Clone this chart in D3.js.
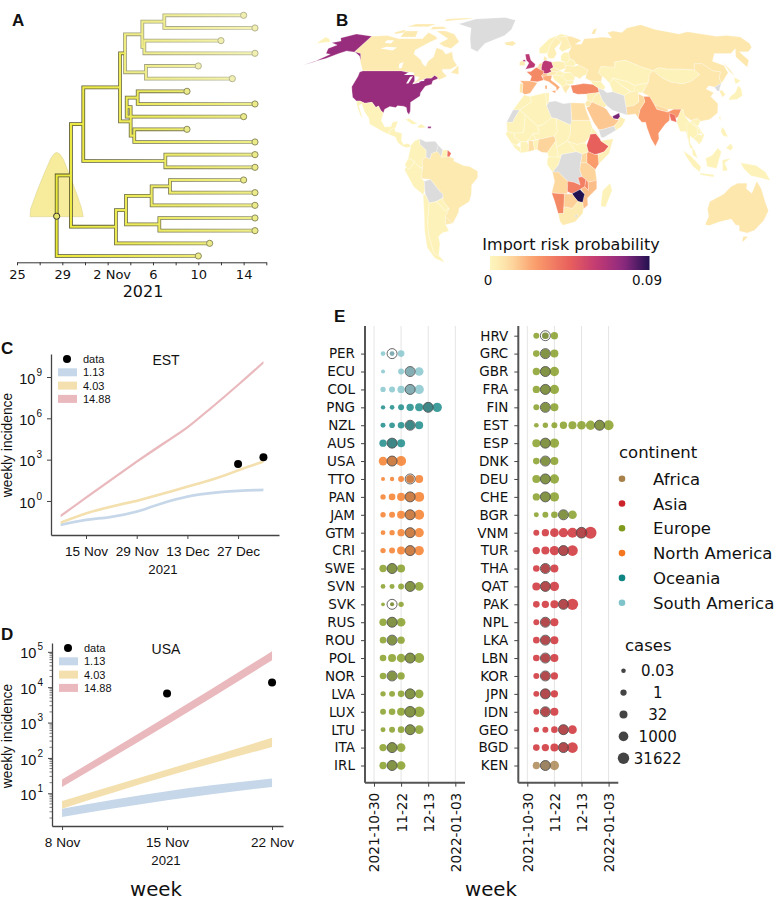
<!DOCTYPE html>
<html><head><meta charset="utf-8">
<script src="https://cdn.jsdelivr.net/npm/d3@7"></script>
<style>
html,body{margin:0;padding:0;background:#fff}
svg{display:block}
text{fill:#111}
</style></head><body>
<svg id="c" width="777" height="901"></svg>
<script>
// ---------- Panel A data ----------
const treeTickDays=[25,27,29,31,33,35,37,39,41,43,45,47];
const treeTickLabels={25:"25",29:"29",33:"2 Nov",37:"6",41:"10",45:"14"};
const tipDays=[45,46,43,46,41,44,40,46,45,40,46,46,46,45,46,46,46,46,42,41];
const treeNodes=[
 ["root",28.5,"a",19],["a",29.76,"b","c"],["b",30.85,"d","e"],["d",34.09,"f","g"],
 ["f",34.53,"h","i"],["h",36.06,"j","k"],["j",38,0,1],["k",36.24,2,3],["i",36.38,4,5],
 ["g",35.03,"r","p"],["r",34.68,"l",8],["l",35.65,6,7],["p",35.35,9,10],["e",38.09,11,12],
 ["c",33.73,"s",18],["s",34.62,"t","u"],["t",36.88,"v",15],["v",38.5,13,14],["u",37.56,16,17]];
const paleClade=["f","h","j","k","i"];
const densityDays=[26.15,26.2,26.8,27.4,28,28.3,28.5,28.8,29.1,29.7,30.3,30.7,30.85];
const densityValues=[0,0.12,0.41,0.67,0.91,0.98,1,0.97,0.89,0.62,0.34,0.13,0];
// ---------- Panel B data ----------
const riskTicks=["0","0.09"];
const lakes=[
 [[-87.8,42],[-86.3,42],[-85,46],[-87,45.8]],
 [[-92,46.8],[-85,46.7],[-85,48],[-89,48.4]],
 [[-84,46],[-80,45.6],[-81.7,43],[-83,44]],
 [[-83.4,41.6],[-79,42.5],[-79,43],[-83,42.4]],
 [[-79.7,43.3],[-76,43.4],[-76,44.2],[-79,43.9]],
 [[-98,50.5],[-96,50.5],[-97,54],[-99.5,53]],
 [[-123,62],[-112,60.8],[-110,62.5],[-119,63]],
 [[-124,65.5],[-118,65],[-118,67],[-124,67]]];
const grey=null;
const mapPolygons=[
 [0.006,[[-141,69.6],[-128,70],[-115,68],[-108,68],[-95,68],[-94,72],[-85,69.5],[-82,68],[-86,66],[-94,61],[-93,58.7],[-85,55.3],[-82,52.9],[-79,51.5],[-79,54.5],[-76.5,57],[-78,62.4],[-72,61],[-68,58.5],[-64,60],[-60,55],[-56,52],[-60,50],[-66,50],[-65,48.5],[-61,46],[-66,44],[-67.5,45.5],[-70,46.5],[-71.5,45],[-75,45],[-79,43.5],[-83,42],[-82.5,45],[-89,48],[-95,49],[-123,49],[-130,54.5],[-135,59],[-141,60]]],
 [0.006,[[-80,73],[-70,71],[-62,66],[-66,62],[-72,63],[-78,65],[-73,68],[-88,73]]],
 [0.006,[[-117,73],[-105,73],[-102,69],[-115,69]]],
 [0.006,[[-90,80],[-62,82.5],[-72,83],[-90,82]]],
 [0.006,[[-125,72],[-118,74],[-116,72],[-122,71]]],
 [0.006,[[-59,48],[-55,52],[-53,47]]],
 [0.006,[[-95,74],[-80,74.5],[-85,76],[-95,76]]],
 [0.006,[[-120,76],[-100,76],[-95,78],[-115,78]]],
 [grey,[[-73,78],[-60,82],[-30,83.5],[-18,81],[-20,74],[-25,70],[-40,65],[-44,60],[-50,62],[-54,68],[-58,75]]],
 [0.006,[[-24,65.5],[-22,64],[-17,63.5],[-14,65],[-17,66.5]]],
 [0.072,[[-124.7,48.4],[-123,49],[-95,49],[-89,48],[-84.5,46.5],[-82.5,45],[-83,42],[-79,43],[-75,45],[-71.5,45],[-70,46.5],[-67.5,45.5],[-67,44.7],[-70,43.5],[-70,41.7],[-74,40.6],[-76,37],[-75.7,35.2],[-81,31.8],[-80,27],[-80.5,25.2],[-82,26.5],[-83,29],[-85,29.7],[-89,30],[-90,29],[-94,29.5],[-97,28],[-97.3,26],[-99.5,27.5],[-101.5,29.8],[-103,29],[-106.5,31.8],[-111,31.3],[-114.8,32.5],[-117.1,32.5],[-120.5,34.5],[-122.5,37.5],[-124.3,40.3],[-124,46]]],
 [0.072,[[-168,65.5],[-162,66.5],[-166,68.5],[-157,71],[-141,69.6],[-141,60],[-135,59],[-130,54.8],[-134,57.5],[-140,59.7],[-148,60.5],[-152,59],[-158,56],[-164,54.5],[-158,58.5],[-162,59],[-165,62],[-161,64]]],
 [0.072,[[-164,54.2],[-170,52.4],[-168,53],[-163,54.9]]],
 [0.002,[[-180,65],[-170,66],[-175,68],[-180,69]]],
 [0.002,[[-117.1,32.5],[-114.8,32.5],[-111,31.3],[-106.5,31.8],[-103,29],[-101.5,29.8],[-99.5,27.5],[-97.3,26],[-97.8,22],[-95,18.5],[-91,18.7],[-90.5,21],[-87,21.5],[-88,18],[-91,17],[-92,14.5],[-96,16],[-105,20],[-106,23],[-110,27],[-113,31],[-114.5,30],[-110,23],[-112,25],[-115,29]]],
 [0.002,[[-92,14.5],[-91,17],[-88.5,18],[-88,16],[-83.5,15],[-83.5,11],[-82,9],[-79.5,9.5],[-77.3,8.5],[-78,7.5],[-80.5,7.3],[-83,8.3],[-85.7,10],[-87.5,13],[-90,13.8]]],
 [0.002,[[-85,22],[-80,23],[-74.2,20.2],[-77.7,19.9],[-82,22.4]]],
 [0.002,[[-74.5,18.5],[-72,20],[-68.5,18.5],[-71.5,17.8]]],
 [0.072,[[-67.4,17.8],[-67.4,18.7],[-65.3,18.7],[-65.3,17.8]]],
 [0.002,[[-77.3,8.5],[-75,11],[-72,12],[-71.5,9],[-67.5,6],[-67.5,2],[-70,1],[-69.5,-4],[-73,-2.5],[-75,0],[-78.8,1.4]]],
 [grey,[[-72,12],[-68,10.5],[-62,10.7],[-60,8.5],[-61,5],[-64,4],[-65,1],[-67.5,2],[-67.5,6],[-71.5,9]]],
 [grey,[[-60,8.5],[-57,6],[-58,2],[-60,1.3],[-61,5]]],
 [0.003,[[-57,6],[-54,5.9],[-54.2,2.3],[-58,2]]],
 [0.04,[[-54,5.9],[-51.7,4.2],[-52.8,2.2],[-54.2,2.3]]],
 [0.002,[[-80.9,-2],[-78.8,1.4],[-75,0],[-75.5,-1.5],[-78.3,-4.5],[-80,-3.5]]],
 [0.002,[[-81.3,-4.5],[-80,-3.5],[-78.3,-4.5],[-75.5,-1.5],[-75,0],[-73,-2.5],[-69.9,-4.2],[-70.5,-9.5],[-69,-11],[-69,-16],[-70.4,-18.3],[-76,-14]]],
 [0.006,[[-60,5],[-58,2],[-54.2,2.3],[-52.8,2.2],[-50,1.5],[-50,0],[-44,-2.5],[-40,-3],[-35,-5.5],[-35,-9],[-39,-13],[-39.5,-18],[-41,-22],[-48,-25.5],[-48.7,-28],[-53.4,-33.7],[-57.6,-30.2],[-54.6,-25.6],[-58,-22],[-57.7,-18],[-60,-16],[-65,-10],[-70.5,-9.5],[-69.9,-4.2],[-69.5,-4],[-70,1],[-67.5,2],[-65,1],[-64,4],[-61,5]]],
 [grey,[[-69,-11],[-65,-10],[-60,-16],[-57.7,-18],[-58,-20],[-62.5,-22],[-67,-22.8],[-69,-18],[-69,-16]]],
 [0.002,[[-62.5,-22],[-58,-20],[-58,-22],[-54.6,-25.6],[-57.7,-27],[-60,-24]]],
 [0.002,[[-70.4,-18.3],[-69,-18],[-67,-22.8],[-70,-33],[-71.5,-40],[-72,-50],[-68.5,-52.5],[-67,-55.5],[-73,-53],[-75.5,-47],[-73.5,-38],[-71.5,-30]]],
 [0.002,[[-67,-22.8],[-62.5,-22],[-60,-24],[-57.7,-27],[-54.6,-25.6],[-57.6,-30.2],[-58.5,-34],[-57,-38],[-62,-39],[-65,-41],[-65.5,-45],[-69,-51],[-68.5,-52.5],[-72,-50],[-71.5,-40],[-70,-33]]],
 [0.006,[[-57.6,-30.2],[-53.4,-33.7],[-58.5,-34.5]]],
 [0.02,[[-9,43.5],[-2,43.4],[3,42.4],[0,39],[-2,36.8],[-5.5,36],[-7.3,37.2],[-7,42]]],
 [0.008,[[-9,42],[-7,42],[-7.3,37.2],[-9,37]]],
 [0.032,[[-4.7,48.5],[-1.5,48.7],[2.5,51],[6,49.5],[8,49],[7.5,47.6],[6,46.3],[7.5,44],[3,43],[-2,43.4],[-1,46]]],
 [0.062,[[-6,58.5],[-3,58.7],[-1.6,55],[1.7,52.7],[1,51],[-5.5,50],[-3,53.5],[-5,55]]],
 [0.062,[[-8,54.3],[-5.5,54.3],[-6,55.3],[-7.5,55.2]]],
 [0.006,[[-10,52],[-6,52],[-6,54],[-8,54.3],[-7.5,55.2],[-10,54]]],
 [0.062,[[6,51],[7,53.6],[9,55],[14,54],[15,51],[12.5,50],[13.5,48.7],[10,47.4],[7.5,47.6],[8,49],[6,49.5]]],
 [0.012,[[3.5,51.4],[4.8,53],[7,53.6],[6,51]]],
 [0.012,[[2.5,51],[3.5,51.4],[6,51],[6,49.5]]],
 [0.018,[[6,46.3],[7.5,47.6],[10,47.4],[10,46.3],[8,46]]],
 [0.006,[[10,47.4],[13.5,48.7],[17,48.5],[16,46.8],[10,46.6]]],
 [0.022,[[7.5,44],[6.7,46],[8,46],[10,46.5],[13.5,46.5],[12.5,44],[16,41.8],[18.4,40],[16,38],[15.8,40],[11,43]]],
 [0.022,[[12.5,38],[15.5,38.2],[15,36.7]]],
 [0.022,[[8.2,41],[9.7,41],[9.5,39],[8.4,39]]],
 [0.006,[[8,55],[8.5,57.5],[11,56],[10,55]]],
 [0.003,[[5,59],[5,62],[14,68],[25,71],[31,70],[25,69],[20,69],[14,64],[12,60],[10,59]]],
 [0.004,[[12,56],[11,59],[12,60],[14,64],[20,69],[24,66],[17.5,62],[18.5,59],[16,56]]],
 [0.004,[[20,69],[25,69],[29,69.5],[31,62.5],[23,60],[21,62],[24,66]]],
 [0.004,[[14,54],[19,54.5],[23.5,54],[24,50.5],[19,49.3],[15,51]]],
 [0.005,[[12.5,50],[15,51],[19,49.3],[22,48.4],[17,48.5],[13.5,48.7]]],
 [0.003,[[16,46.8],[17,48.5],[22,48.4],[21,46]]],
 [0.003,[[21,46],[22,48],[27,48.2],[29.5,45],[28.5,43.8],[23,43.8]]],
 [0.003,[[23,43.8],[28.5,43.8],[28,42],[23,41.3]]],
 [0.003,[[13.5,46.5],[16,46.8],[21,46],[23,43.8],[23,41.3],[20,40],[19,41.5],[15,44]]],
 [0.006,[[20,40],[23,41.3],[26,41],[23,38],[22.5,36.5],[21,38]]],
 [0.003,[[21,55],[21.5,57.5],[24,59.5],[28,59.5],[28,56],[26,54],[23.5,54]]],
 [0.002,[[23.5,52],[23.5,54],[26,54],[28,56],[31,55],[32,53],[30,51.5]]],
 [0.004,[[24,50.5],[23.5,52],[30,51.5],[34,52.3],[40,49.6],[38,47],[35,46],[33,44.5],[30,46],[29.5,45],[27,48.2],[22,48.4]]],
 [0.032,[[26,41],[29,41.2],[35,42],[41.5,41.5],[44.5,39.7],[44.7,37.2],[36,36.3],[30,36.2],[27,37]]],
 [0.007,[[28,59.5],[31,62.5],[29,69.5],[33,69.5],[41,67],[35,64.5],[40,64.5],[44,68],[54,68.5],[60,69],[68,68.5],[67,72],[73,73],[80,72],[88,75],[105,77.5],[113,74],[130,71],[140,72.5],[160,69.5],[170,70],[180,69],[180,65],[177,62.5],[170,60],[163,60],[163,55],[157,51],[156,57],[163,62],[155,59],[142,59],[135,54.5],[141,52],[140,48],[132,43],[130.7,42.3],[131,45],[135,48.5],[130,49],[126,53],[120,53],[117,49.5],[108,50],[98,50],[92,50.8],[87,49.2],[80,51],[70,55],[61,54],[60,51],[50,51.5],[47,48],[49,46],[47.5,43],[40,43.5],[37,45],[38,47],[40,49.6],[34,52.3],[32,53],[31,55],[28,56]]],
 [0.007,[[142,54],[143,50],[143,46],[142,48]]],
 [0.007,[[52,71],[56,74],[68,77],[60,75],[55,71]]],
 [0.002,[[50,51.5],[60,51],[61,54],[70,55],[80,51],[87,49.2],[83,47],[80,42.5],[70,41],[66,43],[56,45],[53,42],[51,44.5],[49,46],[47,48]]],
 [0.002,[[53,42],[56,45],[61,41],[66,37.5],[61,35.5],[54,37.5]]],
 [0.002,[[56,45],[66,43],[70,41],[73,40],[67,37.3],[61,41]]],
 [0.002,[[70,41],[80,42.5],[74,37],[68,37]]],
 [0.002,[[87,49.2],[92,50.8],[98,50],[108,50],[117,49.5],[119,47],[111,43.5],[104,41.8],[96,42.8],[91,45]]],
 [0.007,[[74,37],[80,42.5],[83,47],[87,49.2],[91,45],[96,42.8],[104,41.8],[111,43.5],[119,47],[117,49.5],[120,53],[126,53],[130,49],[135,48.5],[131,45],[130.7,42.3],[124.3,40],[121,40.8],[118,39],[122,37],[119,35],[122,31],[120,26],[114,22.5],[108,21.6],[106,23],[102,22],[98,24.5],[98,28],[92,28],[86,28],[80,30.5],[78,35]]],
 [grey,[[124.3,40],[130.7,42.3],[127.5,39.5],[126.5,38],[125,38]]],
 [0.004,[[126.5,38],[128.5,38.5],[129.4,36],[126.5,34.5]]],
 [0.002,[[130,33],[132,35],[136.5,37],[140,40],[141.5,41],[142,39],[140.5,35.5],[136,33.5]]],
 [0.002,[[140,42],[142,45.5],[145,43.5],[141,42]]],
 [0.002,[[120.2,23],[121.5,25.2],[121,22]]],
 [0.028,[[68,23.5],[70,28],[74,32],[74,35],[78,35],[80,30.5],[81,28],[88,26.5],[89,27],[92,28],[97,28],[94,24],[92,23],[89,26],[88,22],[85,20],[80,15],[80,12],[77.5,8],[75,12],[73,18],[72.5,21],[70,21]]],
 [0.04,[[88.5,26],[92,25],[92.5,21],[89,22]]],
 [0.012,[[80,30.5],[81,28],[88,26.5],[88,28]]],
 [0.012,[[61,25],[66.5,25.5],[68,23.5],[70,28],[74,32],[74,35],[71,36.5],[70,32],[66,30],[61,29.5]]],
 [0.004,[[61,35.5],[66,37.5],[71,38],[71,36.5],[70,32],[66,30],[61,29.5]]],
 [grey,[[44.5,39.7],[48,38.5],[50,37],[54,37.5],[61,35.5],[61,29.5],[61,25],[57,26],[52,27.5],[48.5,30],[46,33],[44.7,37.2]]],
 [0.004,[[44.7,37.2],[46,33],[48.5,30],[46.5,29],[39,32],[41,35]]],
 [0.004,[[36,36.3],[44.7,37.2],[41,35],[39,32],[36,33]]],
 [0.006,[[34.3,31],[36,33],[39,32],[37,29.5],[35,29.5]]],
 [0.003,[[40,43.5],[47.5,43],[49.5,40],[48,38.5],[44.5,39.7],[41.5,41.5]]],
 [0.016,[[35,29],[37,29.5],[39,32],[46.5,29],[48,28],[50,25],[52,23],[55.5,22],[52,19],[44,17],[42,17],[39,21],[37,25]]],
 [0.078,[[51.5,24.2],[56,26],[56.3,24],[55,22.7],[52,23]]],
 [0.004,[[56.3,24],[59.7,22.5],[57,18.8],[53,16.7],[52,19],[55.5,22],[55,22.7]]],
 [grey,[[42,17],[44,17],[52,19],[53,16.7],[45,12.8],[43.3,12.7]]],
 [0.002,[[92.5,21],[94,24],[97,28],[98,28],[98,24.5],[101,21],[98.5,16],[98.7,10],[97.5,16],[94,16]]],
 [0.003,[[98.5,20],[101,21],[105,18],[105,14.5],[102,12],[100,13.5],[99.5,10],[101.5,6.5],[99.5,7],[98.7,10],[98.5,16]]],
 [0.002,[[102,22],[106,23],[108,21.6],[105.8,19],[109,14],[107,10.5],[105,9],[104,10.5],[107.5,14],[107.5,15],[105,19]]],
 [0.002,[[102,12],[105,14.5],[107.5,14],[107,10.5],[104,10.5]]],
 [0.002,[[101,21],[102,22],[105,19],[107.5,15],[105,14.5],[105,18]]],
 [0.002,[[100.5,6.5],[102,6.2],[104,1.5],[101,3]]],
 [0.002,[[95,5.5],[100,2.5],[106,-3],[105.5,-6],[101,-3],[97,2]]],
 [0.002,[[105.5,-6.5],[114.5,-7.5],[114.5,-8.7],[106,-7.5]]],
 [0.002,[[109,1.5],[113,3],[117,7],[119,5],[117.5,1],[116,-4],[110,-3]]],
 [0.002,[[119.5,0.5],[125,1.5],[121,-1],[123,-5],[120,-5.5]]],
 [0.002,[[131,-1],[141,-2.5],[147,-6],[150.5,-10.5],[143,-9],[138,-8],[133,-4]]],
 [0.002,[[120,16],[121,18.5],[122.5,17],[124,13],[121,13.7]]],
 [0.002,[[122,7],[125.5,9.5],[126.5,7],[125,5.7]]],
 [0.007,[[114,-22],[122,-18],[126,-14],[130,-12],[136,-12],[136,-15],[140,-17.5],[142,-11],[145.5,-15],[150,-22.5],[153.5,-27],[153,-32],[150,-37.5],[146,-39],[140,-38],[138,-35],[135.5,-34.7],[131,-31.5],[124,-33],[118,-35],[115,-34.5],[115.5,-30],[113.5,-26]]],
 [0.007,[[144.7,-41],[148,-41],[147,-43.5],[146,-43.5]]],
 [0.002,[[173,-35],[178,-38],[175,-41.5],[174,-39]]],
 [0.002,[[-13,27.7],[-9.8,31.5],[-6,35.8],[-2,35],[-1,32],[-8.7,27.7]]],
 [grey,[[-17,21],[-13,27.7],[-8.7,27.7],[-12,23],[-13,21]]],
 [0.002,[[-8.7,27.7],[-1,32],[-2,35],[8.5,37],[9,30],[12,23.5],[6,19.5],[3,19],[-5,25]]],
 [0.002,[[8.5,37],[11,37],[10.5,32],[9,30]]],
 [grey,[[9,30],[10.5,32],[15,32.5],[20,31],[25,31.6],[25,20],[24,19.5],[15,23],[12,23.5]]],
 [0.01,[[25,31.6],[34,31.3],[34.5,28],[36.8,22],[25,22]]],
 [0.002,[[-17,21],[-13,21],[-12,23],[-8.7,27.7],[-5,25],[-6,15.5],[-12,15],[-16.5,16]]],
 [0.002,[[-12,15],[-6,15.5],[-5,25],[3,19],[4,15],[0,14.8],[-4,10.5],[-8,10.5],[-11.5,12.5]]],
 [0.002,[[3,19],[6,19.5],[12,23.5],[15,23],[15.5,16],[13.5,13.5],[3.5,11.7],[2,11.5],[0,14.8],[4,15]]],
 [0.002,[[-17.5,14.7],[-16.5,16],[-12,15],[-11.5,12.5],[-8,10.5],[-10.5,8.5],[-13.5,9.5]]],
 [0.002,[[-13.5,9.5],[-10.5,8.5],[-8,7.5],[-7.5,4.4],[-11.5,7]]],
 [0.002,[[-8,10.5],[-4,10.5],[-2.8,9],[-3,5],[-7.5,4.4],[-8,7.5]]],
 [0.01,[[-2.8,11],[0,11],[1,6],[-3,5],[-2.8,9]]],
 [0.002,[[-4,10.5],[-2.8,11],[2,11.5],[0,14.8]]],
 [0.002,[[0,11],[3.5,11.7],[2.7,6.3],[1,6]]],
 [0.013,[[2.7,6.3],[3.5,11.7],[13.5,13.5],[14.5,11],[9,4.5],[5.5,4.7]]],
 [0.002,[[9,4.5],[14.5,11],[15,7.5],[16,2],[9.8,2.3]]],
 [0.002,[[15,23],[24,19.5],[24,15.5],[22,11],[15,7.5],[14.5,11],[13.5,13.5],[15.5,16]]],
 [0.002,[[15,7.5],[22,11],[27.5,5],[18,3.5],[16,2]]],
 [0.004,[[24,19.5],[25,22],[36.8,22],[38,18],[36,13],[33,10],[28,9],[24,10],[22,11],[24,15.5]]],
 [0.002,[[24,10],[28,9],[33,10],[34,8.5],[35,5],[31,3.7],[27.5,5],[22,11]]],
 [0.004,[[36.5,14.5],[38,18],[43,12.6],[40,14.8]]],
 [0.045,[[36,13],[36.5,14.5],[40,14.8],[42.5,12],[43,11],[48,8],[45,5],[41.5,4],[39,3.5],[35,5],[34,8.5]]],
 [0.004,[[43,11],[51,12],[48,4],[41.5,-1.6],[41,3.5],[45,5],[48,8]]],
 [0.026,[[34,4],[35,5],[39,3.5],[41,3.5],[41.5,-1.6],[39.3,-4.6],[34,-1]]],
 [0.012,[[30,-1],[31,3.7],[35,5],[34,4],[34,-1]]],
 [0.013,[[30,-1],[34,-1],[39.3,-4.6],[40.4,-10.5],[35,-11.5],[33.5,-10],[31,-8.5],[29.5,-5]]],
 [grey,[[18,3.5],[27.5,5],[31,3.7],[30,-1],[29.5,-5],[31,-8.5],[28.5,-9],[30,-13],[26,-11.5],[22,-11],[16,-6],[12.3,-6],[16,-2]]],
 [0.002,[[9,1],[9.8,2.3],[16,2],[18,3.5],[16,-2],[12.3,-6],[9,-2]]],
 [0.012,[[12.3,-6],[16,-6],[22,-11],[24,-11],[22,-13],[22,-18],[12,-17.3],[13.7,-11]]],
 [0.035,[[22,-11],[26,-11.5],[30,-13],[28.5,-9],[31,-8.5],[33.5,-10],[33,-14],[30,-15.5],[25,-17.7],[22,-16.5]]],
 [0.032,[[33.5,-10],[35,-11.5],[35.5,-16],[33,-14]]],
 [0.018,[[30.5,-15],[33,-14],[35.5,-16],[35,-11.5],[40.4,-10.5],[40.6,-15],[35,-20],[35.5,-24],[32.8,-26],[32,-22.5],[33,-18]]],
 [0.09,[[25,-17.7],[30,-15.5],[33,-18],[32,-22.5],[29,-22],[26,-19]]],
 [0.014,[[20,-18],[25,-17.7],[26,-19],[29,-22],[25.5,-25.7],[20,-24.8]]],
 [0.032,[[12,-17.3],[22,-18],[25,-17.7],[20,-18],[20,-28.5],[16.5,-28.5],[14,-22]]],
 [0.006,[[16.5,-28.5],[20,-28.5],[20,-24.8],[25.5,-25.7],[29,-22],[32,-22.5],[32.8,-26],[32.5,-28.5],[28,-33],[20,-34.8],[18,-33]]],
 [grey,[[27.5,-29.5],[29.3,-29],[29,-30.5],[28,-30.5]]],
 [0.002,[[49,-12],[50.5,-16],[47,-25],[44,-24.5],[44,-20],[44.5,-16]]]
];
// ---------- Panels C and D data ----------
const legendLabels=["1.13","4.03","14.88"];
const bandColours=["#c6d7e9","#f3e0ae","#e9b9bd"];
const estWeeks=["2021-11-08","2021-11-15","2021-11-22","2021-11-29","2021-12-06","2021-12-13","2021-12-20","2021-12-27","2022-01-03"];
const estLow=[[-1.84,-1.48,-1.26,-.87,-.27,.21,.48,.63,.70],[-1.67,-1.0,-.51,-.1,.41,.94,1.47,2.13,2.76],[-1.19,.15,1.45,2.76,4.0,5.25,6.75,8.32,9.97]];
const estHigh=[[-1.64,-1.28,-1.06,-.67,-.07,.41,.68,.83,.90],[-1.47,-.8,-.31,.1,.61,1.14,1.67,2.33,2.96],[-.99,.35,1.65,2.96,4.2,5.45,6.95,8.52,10.17]];
const estDataWeeks=["2021-12-27","2022-01-03"];
const estData=[490,1480];
const estXTicks=["2021-11-15","2021-11-29","2021-12-13","2021-12-27"];
const usaWeeks=["2021-11-08","2021-11-15","2021-11-22"];
const usaLow=[[.33,.80,1.18],[.566,1.48,2.31],[1.18,2.94,4.76]];
const usaHigh=[[.566,1.057,1.415],[.78,1.67,2.57],[1.39,3.18,5.02]];
const usaDataWeeks=["2021-11-15","2021-11-22"];
const usaData=[6600,13500];
// ---------- Panel E data ----------
const continents=["Africa","Asia","Europe","North America","Oceania","South America"];
const continentColours=["#a7804a","#cb2329","#7f9a1c","#f4771f","#0f8583","#7fc3cb"];
const caseBreaks=[0.03,1,32,1000,31622];
const caseLabels=["0.03","1","32","1000","31622"];
const weekTicks=[0,3,6,9];
const weekTickLabels=["2021-10-30","11-22","12-13","2022-01-03"];
const leftCountries=["PER","ECU","COL","PNG","NZL","AUS","USA","TTO","PAN","JAM","GTM","CRI","SWE","SVN","SVK","RUS","ROU","POL","NOR","LVA","LUX","LTU","ITA","IRL"];
const leftContinent=[5,5,5,4,4,4,3,3,3,3,3,3,2,2,2,2,2,2,2,2,2,2,2,2];
const leftCases=[
[.04,.04,2],[.01,null,.5,470,125],[.14,.5,8,1800,470],[.02,.04,.5,8,32,1800,470],[.07,.27,2,470,32],[8,1800,32],[125,1800,1800],
[.01,.02,.5,32,32],[.14,2,32,1800,1800],[.14,.5,32,1800,1800],[.04,.14,8,1800,470],[.14,.5,32,1800,470],
[8,1800,32],[.04,.07,.5,1800,125],[.005,.01,.14],[8,1800,125],[2,470,8],[2,32,125,1800,1800],[2,470,8],[.14,.5,2,1800,125],[.5,2,32,7000,7000],[.07,.5,2,1800,125],[8,1800,125],[8,1800,125]];
const leftRing=[2,4,4,6,4,2,2,4,4,4,4,4,2,4,2,2,2,4,2,4,4,4,2,2];
const rightCountries=["HRV","GRC","GBR","FRA","FIN","EST","ESP","DNK","DEU","CHE","BGR","VNM","TUR","THA","QAT","PAK","NPL","LKA","LBN","KOR","JPN","IDN","GEO","BGD","KEN"];
const rightContinent=[2,2,2,2,2,2,2,2,2,2,2,1,1,1,1,1,1,1,1,1,1,1,1,1,0];
const rightCases=[
[.5,2,8],[2,470,32],[8,1800,470],[8,1800,470],[.5,470,32],[.04,.14,.5,8,32,125,470,1800,1800],[32,1800,470],[2,470,32],[32,1800,470],[8,1800,470],
[.07,.5,2,470,125],[.5,8,125,470,1800,7000,100000],[8,32,470,1800,7000],[2,470,32],[32,1800,470],[2,8,32,1800,27000],
[.5,470,32],[2,470,32],[2,470,32],[.5,470,8],[.5,1800,8],[.5,470,32],[.14,.5,2,1800,125],[2,8,32,1800,7000],[8,1800,470]];
const rightRing=[2,2,2,2,2,8,2,2,2,2,4,6,4,2,2,4,2,2,2,2,2,2,4,4,2];

// ---------- helpers ----------
const svg=d3.select("#c");
const DJ='"DejaVu Sans",sans-serif', AR='"Liberation Sans",Arial,sans-serif';
function label(x,y,t,o={}){
  return svg.append("text").attr("x",x).attr("y",y).text(t)
   .attr("font-family",o.f||DJ).attr("font-size",o.s||13).attr("font-weight",o.w||null)
   .attr("text-anchor",o.a||"start").attr("fill",o.c||"#111");
}
[["A",12,26],["B",336,26],["C",1,354],["D",1,640],["E",334,322]].forEach(d=>label(d[1],d[2],d[0],{f:AR,s:17,w:"bold",c:"#000"}));
const defs=svg.append("defs");
function grad(id,a,b){const g=defs.append("linearGradient").attr("id",id).attr("gradientUnits","userSpaceOnUse")
   .attr("x1",55).attr("x2",265).attr("y1",0).attr("y2",0);
   g.append("stop").attr("offset",0).attr("stop-color",a);g.append("stop").attr("offset",1).attr("stop-color",b);}
grad("outer","#4f4f28","#9c9c78");grad("core","#ebe83c","#efee8c");
grad("outerP","#86865f","#c4c4aa");grad("coreP","#ebe866","#f5f4b8");

// ---------- Panel A ----------
const xTree=d3.scaleLinear().domain([25,47]).range([17,266.3]);
const yTree=d3.scaleLinear().domain([0,19]).range([15.3,256]);
const gA=svg.append("g");
const yDens=d3.scaleLinear().domain([0,1]).range([216.7,152.3]);
gA.append("path").attr("d",d3.area().x((d,i)=>xTree(densityDays[i])).y0(yDens(0)).y1(d=>yDens(d))(densityValues))
  .attr("fill","#f6ec9b").attr("stroke","#d8cf8a").attr("stroke-width",.5);
const nodeMap=new Map(treeNodes.map(n=>[n[0],n]));
function nodeY(id){ if(typeof id==="number") return yTree(id); const n=nodeMap.get(id); return (nodeY(n[2])+nodeY(n[3]))/2; }
function nodeX(id){ return typeof id==="number"?xTree(tipDays[id]):xTree(nodeMap.get(id)[1]); }
function branches(n){const x=xTree(n[1]),a=nodeY(n[2]),b=nodeY(n[3]);
  return `M${nodeX(n[2])},${a}H${x}V${b}H${nodeX(n[3])}`;}
const ordered=[...treeNodes].sort((p,q)=>paleClade.includes(q[0])-paleClade.includes(p[0]));
[["outer",3.7],["core",2.1]].forEach(([g,w])=>{
 gA.selectAll(null).data(ordered).join("path").attr("d",branches).attr("fill","none")
  .attr("stroke",d=>`url(#${g}${paleClade.includes(d[0])?"P":""})`).attr("stroke-width",w).attr("stroke-linejoin","miter");
});
gA.selectAll(null).data(tipDays).join("circle").attr("cx",d=>xTree(d)).attr("cy",(d,i)=>yTree(i)).attr("r",3.1)
  .attr("fill",(d,i)=>i<6?"#f2f0b0":"#eceb8a").attr("stroke",(d,i)=>i<6?"#b4b492":"#8d8d60").attr("stroke-width",1);
gA.append("circle").attr("cx",xTree(28.5)).attr("cy",nodeY("root")+.5).attr("r",3.1).attr("fill","#e6e36a").attr("stroke","#333").attr("stroke-width",1);
const axA=svg.append("g").attr("transform","translate(0,262.3)")
  .call(d3.axisBottom(xTree).tickValues(treeTickDays).tickFormat(d=>treeTickLabels[d]||"").tickSize(3).tickSizeOuter(0));
axA.select(".domain").attr("stroke","#333").attr("stroke-width",1);
axA.selectAll("line").attr("stroke","#333");
axA.selectAll("text").attr("font-family",DJ).attr("font-size",13).attr("fill","#222").attr("dy","0.85em")
  .attr("dx",d=>d===33?4:0);
label(143,297,"2021",{s:16,a:"middle"});

// ---------- Panel B ----------
const robA=[1,.9986,.9954,.99,.9822,.973,.96,.9427,.9216,.8962,.8679,.835,.7986,.7597,.7186,.6732,.6213,.5722,.5322];
const robB=[0,.062,.124,.186,.248,.31,.372,.434,.4958,.5571,.6176,.6769,.7346,.7903,.8435,.8936,.9394,.9761,1];
function robinson(l,p){const d=Math.min(Math.abs(p)*180/Math.PI/5,17.999),i=Math.floor(d),t=d-i;
  return [.8255*l*(robA[i]+(robA[i+1]-robA[i])*t),1.3523*Math.sign(p)*(robB[i]+(robB[i+1]-robB[i])*t)];}
const projection=d3.geoProjection(robinson).scale(110).translate([533,161]);
const riskDomain=[0,.003,.012,.025,.045,.06,.075,.09];
const riskColour=d3.scaleLinear().domain(riskDomain).range(["#fdf5bd","#fdf2b8","#fdd9a0","#fb9f6c","#e8605c","#c23a72","#8f2a80","#221150"]);
const lineGen=d3.line();
const gB=svg.append("g");
gB.selectAll(null).data(mapPolygons).join("path").attr("d",d=>lineGen(d[1].map(projection))+"Z")
  .attr("fill",d=>d[0]===null?"#dcdcdc":riskColour(d[0])).attr("stroke","#fff").attr("stroke-opacity",.7).attr("stroke-width",.35);
gB.selectAll(null).data(lakes).join("path").attr("d",d=>lineGen(d.map(projection))+"Z").attr("fill","#fff");
label(571,250,"Import risk probability",{s:16,a:"middle"});
const barX=d3.scaleLinear().domain([0,.09]).range([490,649.5]);
const lg=defs.append("linearGradient").attr("id","risk");
d3.range(0,1.001,.05).forEach(t=>lg.append("stop").attr("offset",t).attr("stop-color",riskColour(t*.09)));
svg.append("rect").attr("x",barX(0)).attr("y",256).attr("width",barX(.09)-barX(0)).attr("height",14).attr("fill","url(#risk)");
label(488,285,riskTicks[0],{s:13.5,a:"middle"});
label(647,285,riskTicks[1],{s:13.5,a:"middle"});

// ---------- Panels C and D ----------
const day=s=>new Date(s+"T00:00:00Z");
function incidence(o){
  const g=svg.append("g");
  const area=d3.area().x(d=>o.x(d.w)).y0(d=>o.y(10**d.l)).y1(d=>o.y(10**d.h)).curve(d3.curveMonotoneX);
  o.low.forEach((lo,k)=>{
    const pts=lo.map((l,i)=>({w:day(o.weeks[i]),l,h:o.high[k][i]}));
    g.append("path").attr("d",area(pts)).attr("fill",bandColours[k]);
  });
  g.selectAll(null).data(o.data).join("circle").attr("cx",(d,i)=>o.x(day(o.dataWeeks[i]))).attr("cy",d=>o.y(d)).attr("r",4).attr("fill","#000");
  const ay=svg.append("g").attr("transform",`translate(${o.x.range()[0]},0)`)
    .call(d3.axisLeft(o.y).tickValues(o.yMajor).tickFormat("").tickSize(4).tickSizeOuter(0));
  ay.selectAll(".tick").each(function(d){
    const t=d3.select(this).select("text").text(null).attr("fill","#111").attr("font-family",AR).attr("font-size",14.5).attr("x",-9).attr("dy",".42em");
    t.append("tspan").text("10");
    t.append("tspan").text(Math.round(Math.log10(d))).attr("font-size",10).attr("dy","-0.8em").attr("dx","1");
  });
  if(o.yMinor) {
    ay.selectAll(null).data(o.yMinor).join("line").attr("x1",-2.5).attr("x2",0).attr("y1",d=>o.y(d)).attr("y2",d=>o.y(d)).attr("stroke","#444").attr("stroke-width",.7);
  }
  const ax=svg.append("g").attr("transform",`translate(0,${o.y.range()[0]})`)
    .call(d3.axisBottom(o.x).tickValues(o.xTicks.map(day)).tickFormat(d3.utcFormat("%-d %b")).tickSize(4).tickSizeOuter(0));
  ax.selectAll("text").attr("font-family",AR).attr("font-size",13.6).attr("fill","#111").attr("dy","1em");
  [ay,ax].forEach(a=>{a.select(".domain").attr("stroke","#444").attr("stroke-width",1.3);a.selectAll("line").attr("stroke","#444");});
  svg.append("circle").attr("cx",o.lx+9).attr("cy",o.ly).attr("r",4).attr("fill","#000");
  label(o.lx+25,o.ly+4,"data",{f:AR,s:11});
  legendLabels.forEach((t,k)=>{
    const yy=o.ly+13.3*(k+1);
    svg.append("rect").attr("x",o.lx).attr("y",yy-4).attr("width",19).attr("height",8).attr("fill",bandColours[k]);
    label(o.lx+25,yy+4,t,{f:AR,s:11});
  });
  label(166,o.ly+6,o.name,{f:AR,s:14,a:"middle"});
  svg.append("text").attr("transform",`translate(12,${o.labY}) rotate(-90)`).attr("text-anchor","middle")
    .attr("font-family",AR).attr("font-size",13.8).attr("fill","#111").text("weekly incidence");
  label(o.yearX,o.yearY,"2021",{f:AR,s:13.2,a:"middle"});
}
const x0=day("2021-11-15");
const dayMs=864e5;
incidence({name:"EST",weeks:estWeeks,low:estLow,high:estHigh,data:estData,dataWeeks:estDataWeeks,xTicks:estXTicks,
  x:d3.scaleUtc().domain([new Date(+x0-9.67*dayMs),new Date(+x0+53.3*dayMs)]).range([51,279]),
  y:d3.scaleLog().domain([10**-2.47,10**10.67]).range([535,354]),
  yMajor:[1,1e3,1e6,1e9],lx:58,ly:359,labY:445,yearX:163,yearY:574});
incidence({name:"USA",weeks:usaWeeks,low:usaLow,high:usaHigh,data:usaData,dataWeeks:usaDataWeeks,xTicks:usaWeeks,
  x:d3.scaleUtc().domain([new Date(+day("2021-11-08")-0.67*dayMs),new Date(+day("2021-11-22")+0.73*dayMs)]).range([52,283]),
  y:d3.scaleLog().domain([10**0.075,10**5.25]).range([826,643]),
  yMajor:[10,100,1e3,1e4,1e5],
  yMinor:[2,3,4,5,6,7,8,9,20,30,40,50,60,70,80,90,200,300,400,500,600,700,800,900,2e3,3e3,4e3,5e3,6e3,7e3,8e3,9e3,2e4,3e4,4e4,5e4,6e4,7e4,8e4,9e4],
  lx:59,ly:648,labY:736,yearX:166,yearY:865});
label(156,895.5,"week",{s:19.8,a:"middle"});
label(491,895.5,"week",{s:19.8,a:"middle"});

// ---------- Panel E ----------
const rScale=d3.scaleLinear().domain([-1.5,4.5]).range([2.3,5.7]);
const rowY=d3.scaleLinear().domain([0,24]).range([335.7,765.5]);
function dotPanel(axisX,countries,cont,cases,ring,firstRow){
  const x=d3.scaleLinear().domain([0,9]).range([axisX+9,axisX+90.3]);
  const g=svg.append("g");
  g.selectAll(null).data(weekTicks).join("line").attr("x1",d=>x(d)).attr("x2",d=>x(d)).attr("y1",326).attr("y2",782.7).attr("stroke","#e4e4e4").attr("stroke-width",1);
  countries.forEach((c,k)=>{
    const y=rowY(k+firstRow),col=continentColours[cont[k]];
    const rr=Math.max(rScale(Math.log10(cases[k][ring[k]-1])),5);
    g.append("circle").attr("cx",x(ring[k])).attr("cy",y).attr("r",rr).attr("fill","#fff");
    cases[k].forEach((v,i)=>{ if(v==null) return;
      g.append("circle").attr("cx",x(i+1)).attr("cy",y).attr("r",rScale(Math.log10(v))).attr("fill",col).attr("fill-opacity",.8);
    });
    const r=rScale(Math.log10(cases[k][ring[k]-1]));
    g.append("circle").attr("cx",x(ring[k])).attr("cy",y).attr("r",r).attr("fill","#3c3c3c").attr("fill-opacity",.22);
    g.append("circle").attr("cx",x(ring[k])).attr("cy",y).attr("r",rr).attr("fill","none").attr("stroke","#555").attr("stroke-width",.9);
  });
  const ay=svg.append("g").attr("transform",`translate(${axisX},0)`)
    .call(d3.axisLeft(d3.scalePoint().domain(countries).range([rowY(firstRow),rowY(firstRow+countries.length-1)])).tickSize(4).tickSizeOuter(0));
  ay.select(".domain").attr("d",`M0,326V782.7`).attr("stroke","#555").attr("stroke-width",2);
  ay.selectAll("line").attr("stroke","#444");
  ay.selectAll("text").attr("font-family",DJ).attr("font-size",13.5).attr("fill","#111").attr("x",-10);
  const ax=svg.append("g").attr("transform","translate(0,782.7)")
    .call(d3.axisBottom(x).tickValues(weekTicks).tickFormat((d,i)=>weekTickLabels[i]).tickSize(4).tickSizeOuter(0));
  ax.select(".domain").attr("d",`M${axisX},0H${axisX+100}`).attr("stroke","#555").attr("stroke-width",2);
  ax.selectAll("line").attr("stroke","#444");
  ax.selectAll("text").attr("font-family",DJ).attr("font-size",13.7).attr("fill","#111")
    .attr("transform","rotate(-90)").attr("text-anchor","end").attr("x",-10).attr("y",0).attr("dy",".36em");
}
dotPanel(365,leftCountries,leftContinent,leftCases,leftRing,1);
dotPanel(518.3,rightCountries,rightContinent,rightCases,rightRing,0);
// legends
label(619,458,"continent",{s:16.5});
const contY=d3.scalePoint().domain(continents).range([478.7,602.7]);
continents.forEach((c,k)=>{
  svg.append("circle").attr("cx",622).attr("cy",contY(c)).attr("r",3.3).attr("fill",continentColours[k]);
  label(653,contY(c)+6,c,{s:16.5});
});
label(625,650.5,"cases",{s:16.5});
const caseY=d3.scalePoint().domain(caseLabels).range([670.7,758.3]);
caseBreaks.forEach((v,k)=>{
  svg.append("circle").attr("cx",623.5).attr("cy",caseY(caseLabels[k])).attr("r",rScale(Math.log10(v))).attr("fill","#444");
  label(657.7,caseY(caseLabels[k])+5.5,caseLabels[k],{s:15,a:"middle"});
});
</script>
</body></html>
